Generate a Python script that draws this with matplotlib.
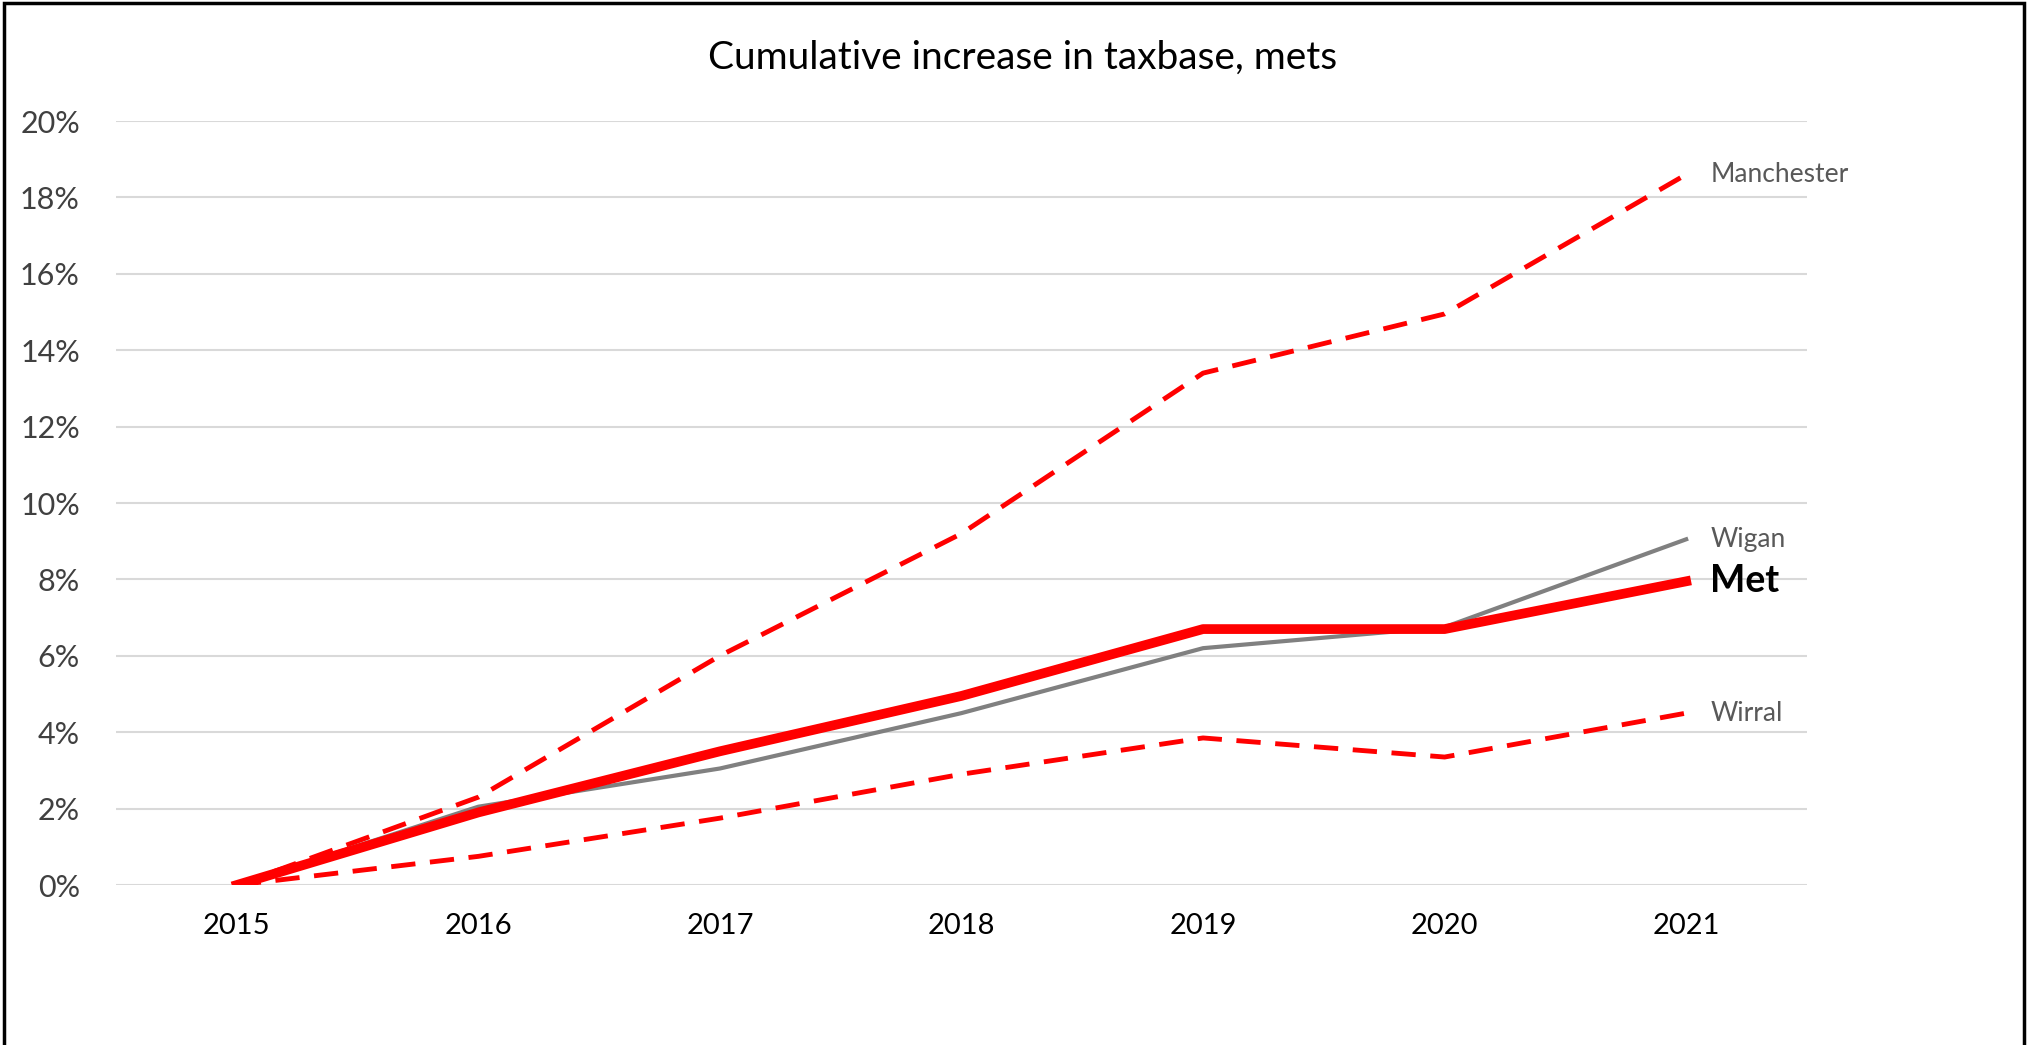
import matplotlib.pyplot as plt
from matplotlib.patches import Rectangle
from matplotlib.ticker import PercentFormatter

plt.rcParams['font.family'] = ['Lato', 'DejaVu Sans']

# Data (cumulative increase, %)
years = ['2015', '2016', '2017', '2018', '2019', '2020', '2021']
manchester = [0, 2.3, 6.0, 9.2, 13.4, 14.95, 18.6]
wigan = [0, 2.05, 3.05, 4.5, 6.2, 6.75, 9.05]
met = [0, 1.9, 3.5, 4.95, 6.7, 6.7, 7.95]
wirral = [0, 0.75, 1.75, 2.9, 3.85, 3.35, 4.5]

red = '#ff0000'
grey = '#808080'

fig = plt.figure(figsize=(20.28, 10.45), dpi=100)
ax = fig.add_axes([0.0572, 0.1531, 0.8338, 0.7311])

x = range(len(years))
ax.plot(x, manchester, color=red, lw=3.5, dashes=(5, 3))
ax.plot(x, wirral, color=red, lw=3.5, dashes=(5, 3))
ax.plot(x, wigan, color=grey, lw=3.0)
ax.plot(x, met, color=red, lw=7)

# end labels
lx = len(years) - 1 + 0.1
ax.text(lx, manchester[-1], 'Manchester', color='#595959', fontsize=19, va='center', clip_on=False)
ax.text(lx, wigan[-1], 'Wigan', color='#595959', fontsize=19, va='center', clip_on=False)
ax.text(lx, met[-1], 'Met', color='black', fontsize=27, fontweight='bold', va='center', clip_on=False)
ax.text(lx, wirral[-1], 'Wirral', color='#595959', fontsize=19, va='center', clip_on=False)

ax.set_xlim(-0.5, len(years) - 0.5)
ax.set_ylim(0, 20)
ax.set_yticks(range(0, 21, 2))
ax.yaxis.set_major_formatter(PercentFormatter(decimals=0))
ax.set_xticks(list(x))
ax.set_xticklabels(years)
ax.tick_params(axis='y', length=0, pad=26, labelsize=22, labelcolor='#404040')
ax.tick_params(axis='x', length=0, pad=20, labelsize=21, labelcolor='black')
ax.grid(axis='y', color='#d9d9d9', lw=1.5)
ax.set_axisbelow(True)
for s in ax.spines.values():
    s.set_visible(False)

fig.text(0.504, 0.945, 'Cumulative increase in taxbase, mets', ha='center', va='center', fontsize=28)

# frame around the chart
fig.patches.append(Rectangle((0.002, -0.05), 0.996, 1.047, transform=fig.transFigure,
                             fill=False, edgecolor='black', lw=2.5))

fig.savefig('out.png', dpi=100)
